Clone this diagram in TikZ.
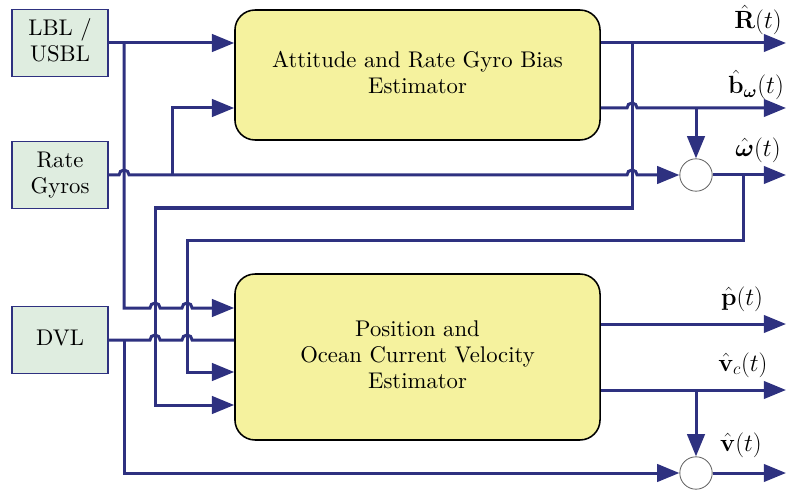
\documentclass[tikz,border=0pt]{standalone}
\usepackage{amsmath}
\usepackage{graphicx}
\usetikzlibrary{arrows.meta}
\definecolor{navy}{RGB}{46,49,128}
\definecolor{boxgreen}{RGB}{223,237,224}
\definecolor{boxyellow}{RGB}{245,242,158}
\newcommand{\scaledtext}[1]{\scalebox{1.89}{\fontsize{10}{11.5}\selectfont\begin{tabular}{@{}c@{}}#1\end{tabular}}}
\begin{document}
% 1 unit = 1 px of the reference; 1px = 0.8333pt
\begin{tikzpicture}[x=0.8333pt,y=-0.8333pt,
  conn/.style={line width=2.5pt, draw=navy},
  arr/.style={conn, -{Triangle[length=18.5pt,width=14.5pt]}},
  src/.style={draw=navy, line width=1.3pt, fill=boxgreen, minimum width=80pt, minimum height=55.8pt, inner sep=0pt},
  est/.style={draw=black, line width=1.3pt, fill=boxyellow, rounded corners=16.7pt, minimum width=304.2pt, inner sep=0pt},
  sumc/.style={circle, draw=black!60, line width=0.7pt, fill=white, minimum size=27pt, inner sep=0pt},
  lab/.style={font=\fontsize{20.74}{22.5}\selectfont, inner sep=0pt}
]
\useasboundingbox (0,0) rectangle (787,492);

\node[src] (lbl) at (60,43) {\scaledtext{LBL /\\USBL}};
\node[src] (gyro) at (60,175) {\scaledtext{Rate\\Gyros}};
\node[src] (dvl) at (60,340) {\scaledtext{DVL}};
\node[est, minimum height=108.3pt] (att) at (417.5,75) {\scaledtext{Attitude and Rate Gyro Bias\\Estimator}};
\node[est, minimum height=138.3pt] (pos) at (417.5,357) {\scaledtext{Position and\\Ocean Current Velocity\\Estimator}};
\node[sumc] (s1) at (696,175) {};
\node[sumc] (s2) at (696,473) {};

\coordinate (oR) at (786,43);
\coordinate (oB) at (786,108);
\coordinate (oW) at (786,175);
\coordinate (oP) at (786,324);
\coordinate (oC) at (786,390);
\coordinate (oV) at (786,473);

% inputs
\draw[arr] (lbl.east) -- (att.west |- lbl.east);
\draw[arr] (124,43) -- (124,308) -- (150,308) arc[start angle=180,end angle=0,radius=4.2pt] -- (182,308) arc[start angle=180,end angle=0,radius=4.2pt] -- (pos.west |- 0,308);
\draw[arr] (gyro.east) -- (119,175) arc[start angle=180,end angle=0,radius=4.2pt] -- (627,175) arc[start angle=180,end angle=0,radius=4.2pt] -- (s1.west);
\draw[arr] (172,175) -- (172,108) -- (att.west |- 0,108);
\draw[conn] (dvl.east) -- (150,340) arc[start angle=180,end angle=0,radius=4.2pt] -- (182,340) arc[start angle=180,end angle=0,radius=4.2pt] -- (pos.west |- dvl.east);
\draw[arr] (124,340) -- (124,473) -- (s2.west);

% outputs of attitude estimator
\draw[arr] (att.east |- oR) -- (oR);
\draw[arr] (632,43) -- (632,208) -- (155,208) -- (155,405) -- (pos.west |- 0,405);
\draw[arr] (att.east |- oB) -- (627,108) arc[start angle=180,end angle=0,radius=4.2pt] -- (oB);
\draw[arr] (696,108) -- (s1.north);
\draw[arr] (s1.east) -- (oW);
\draw[arr] (743,175) -- (743,240) -- (187,240) -- (187,372) -- (pos.west |- 0,372);

% outputs of position estimator
\draw[arr] (pos.east |- oP) -- (oP);
\draw[arr] (pos.east |- oC) -- (oC);
\draw[arr] (696,390) -- (s2.north);
\draw[arr] (s2.east) -- (oV);

% labels
\node[lab] (lR) at (758,20) {$\hat{\mathbf{R}}(t)$};
\node[lab] (lB) at (756,85) {$\hat{\mathbf{b}}_{\boldsymbol{\omega}}(t)$};
\node[lab] (lW) at (758,150) {$\hat{\boldsymbol{\omega}}(t)$};
\node[lab] (lP) at (742,299) {$\hat{\mathbf{p}}(t)$};
\node[lab] (lC) at (743,365) {$\hat{\mathbf{v}}_c(t)$};
\node[lab] (lV) at (741,445) {$\hat{\mathbf{v}}(t)$};
\end{tikzpicture}
\end{document}
